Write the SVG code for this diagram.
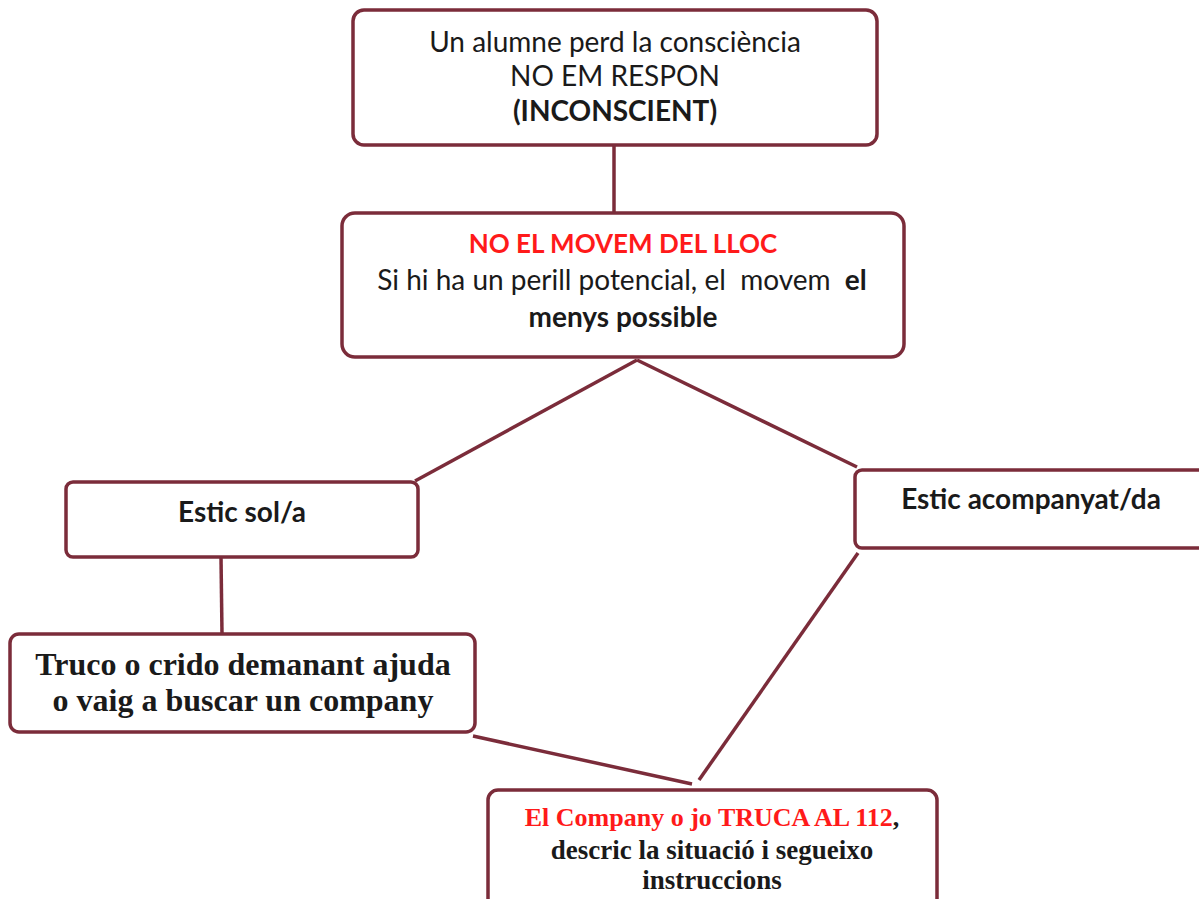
<svg xmlns="http://www.w3.org/2000/svg" width="1199" height="899" viewBox="0 0 1199 899">
<style>
.box{fill:#fff;stroke:#7b2c3a;stroke-width:3.5}
.con{stroke:#7b2c3a;stroke-width:3.5;fill:none}
.s{font-family:Lato,"Open Sans",sans-serif;font-size:28px;fill:#1a1a1a;text-anchor:middle;white-space:pre}
.b{font-weight:bold}
.r{fill:#ff1a1a}
.sf{font-family:"Liberation Serif","DejaVu Serif",serif;font-weight:bold;fill:#1a1a1a;text-anchor:middle}
</style>
<rect width="1199" height="899" fill="#fff"/>
<g id="connectors">
<line class="con" x1="614" y1="145" x2="614" y2="213"/>
<line class="con" x1="637" y1="360" x2="415" y2="481"/>
<line class="con" x1="637" y1="360" x2="857" y2="467"/>
<line class="con" x1="221" y1="557" x2="222" y2="634"/>
<line class="con" x1="473" y1="736" x2="692" y2="784"/>
<line class="con" x1="858" y1="553" x2="699" y2="780"/>
</g>
<g id="n1">
<rect class="box" x="353" y="10" width="524" height="135" rx="11"/>
<text class="s" x="615" y="52">Un alumne perd la consciència</text>
<text class="s" x="615" y="86">NO EM RESPON</text>
<text class="s b" x="615" y="121">(INCONSCIENT)</text>
</g>
<g id="n2">
<rect class="box" x="342" y="213" width="562" height="144" rx="13"/>
<text class="s b r" x="623" y="253" style="font-size:26px">NO EL MOVEM DEL LLOC</text>
<text class="s" x="622" y="290" xml:space="preserve">Si hi ha un perill potencial, el  movem  <tspan class="b">el</tspan></text>
<text class="s b" x="623" y="327">menys possible</text>
</g>
<g id="n3">
<rect class="box" x="66" y="482" width="352" height="75" rx="7"/>
<text class="s b" x="242" y="522">Estic sol/a</text>
</g>
<g id="n4">
<rect class="box" x="855" y="470" width="360" height="78" rx="7"/>
<text class="s b" x="1031" y="509">Estic acompanyat/da</text>
</g>
<g id="n5">
<rect class="box" x="10" y="634" width="465" height="98" rx="9"/>
<text class="sf" x="243" y="675" font-size="32">Truco o crido demanant ajuda</text>
<text class="sf" x="243" y="711" font-size="32">o vaig a buscar un company</text>
</g>
<g id="n6">
<rect class="box" x="488" y="790" width="449" height="120" rx="10"/>
<text class="sf" x="712" y="826" font-size="26"><tspan class="r">El Company o jo TRUCA AL 112</tspan>,</text>
<text class="sf" x="712" y="859" font-size="27">descric la situació i segueixo</text>
<text class="sf" x="712" y="889" font-size="27">instruccions</text>
</g>
</svg>
